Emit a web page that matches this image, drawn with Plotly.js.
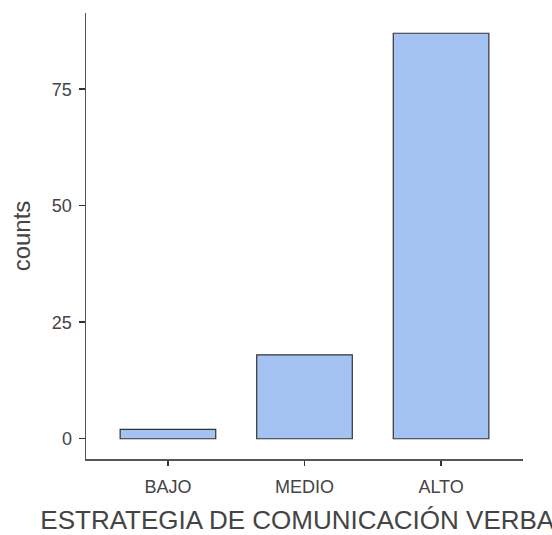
<!DOCTYPE html>
<html>
<head>
<meta charset="utf-8">
<script src="https://cdn.plot.ly/plotly-3.0.1.min.js"></script>
<style>html,body{margin:0;padding:0;background:#fff;}#chart{width:552px;height:535px;}</style>
</head>
<body>
<div id="chart"></div>
<script>
var categories = ["BAJO", "MEDIO", "ALTO"];
var counts = [2, 18, 87];
var yTickValues = [0, 25, 50, 75];
var xTitle = "ESTRATEGIA DE COMUNICACIÓN VERBAL";
var yTitle = "counts";

var trace = {
  type: "bar",
  x: categories,
  y: counts,
  width: 0.7,
  marker: {color: "#A4C2F2", line: {color: "#333333", width: 1.2}},
  hoverinfo: "x+y"
};

var font = "Liberation Sans, Arial, sans-serif";
var layout = {
  width: 552, height: 535,
  margin: {l: 86, r: 29, t: 13, b: 76},
  paper_bgcolor: "#ffffff",
  plot_bgcolor: "#ffffff",
  showlegend: false,
  bargap: 0.3,
  font: {family: font, color: "#333333"},
  xaxis: {
    type: "category",
    range: [-0.6, 2.6],
    showline: true, linecolor: "#555555", linewidth: 1.5,
    ticks: "outside", ticklen: 5, tickwidth: 1.5, tickcolor: "#333333",
    ticklabelstandoff: 6,
    showgrid: false, zeroline: false,
    tickfont: {family: font, size: 18, color: "#444444"},
    title: {text: xTitle, font: {family: font, size: 26, color: "#444444"}, standoff: 14}
  },
  yaxis: {
    range: [-4.35, 91.35],
    tickvals: yTickValues,
    showline: true, linecolor: "#555555", linewidth: 1.5,
    ticks: "outside", ticklen: 6, tickwidth: 1.5, tickcolor: "#333333",
    ticklabelstandoff: 3,
    showgrid: false, zeroline: false,
    tickfont: {family: font, size: 18, color: "#444444"},
    title: {text: yTitle, font: {family: font, size: 24, color: "#444444"}, standoff: 14}
  }
};

Plotly.newPlot("chart", [trace], layout, {displayModeBar: false, staticPlot: true});
</script>
</body>
</html>
